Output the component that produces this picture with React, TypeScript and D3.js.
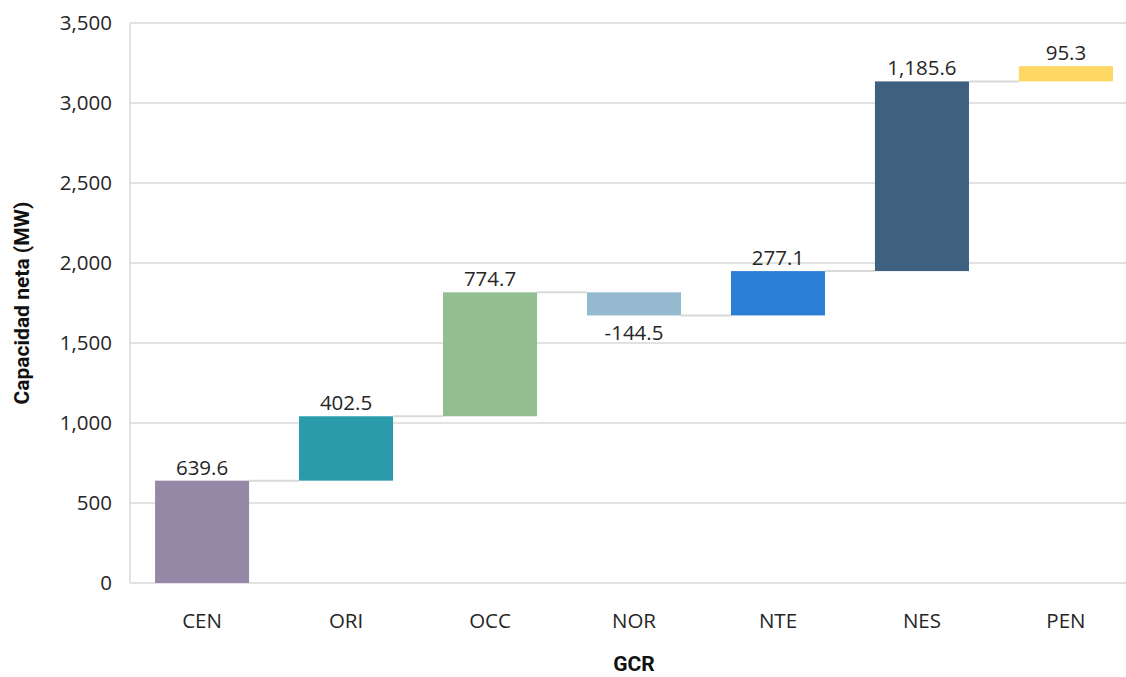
import React from 'react';
import * as d3 from 'd3';

// GCR regions and their net capacity contribution (MW)
const categories = ['CEN', 'ORI', 'OCC', 'NOR', 'NTE', 'NES', 'PEN'];
const values = [639.6, 402.5, 774.7, -144.5, 277.1, 1185.6, 95.3];
const barColors = ['#9389a6', '#2b9bab', '#93be91', '#95b9cf', '#2b7fd6', '#3e617f', '#fed764'];
const yTicks = [0, 500, 1000, 1500, 2000, 2500, 3000, 3500];

const width = 1126;
const height = 677;
const marginLeft = 130;
const marginTop = 23;
const plotBottom = 583;

const App = () => {
  // running totals for the waterfall
  let acc = 0;
  const steps = values.map((v, i) => {
    const start = acc;
    acc += v;
    return { key: categories[i], value: v, start, end: acc, color: barColors[i] };
  });

  const x = d3.scaleBand()
    .domain(categories)
    .range([marginLeft, marginLeft + 144 * categories.length])
    .paddingInner(0.347)
    .paddingOuter(0.174);

  const y = d3.scaleLinear()
    .domain([0, 3500])
    .range([plotBottom, marginTop]);

  // plain hyphen for negatives, like the original
  const fmt = (v: number) => d3.format(',.1f')(v).replace('\u2212', '-');
  const tickFont = "'Open Sans', 'Noto Sans', sans-serif";

  return (
    <svg width={width} height={height} style={{ display: 'block', position: 'absolute', left: 0, top: 0 }}>
      <rect width={width} height={height} fill="#fff" />

      {/* grid */}
      {yTicks.map(t => (
        <line key={t} x1={marginLeft} x2={width} y1={y(t)} y2={y(t)} stroke="#d9d9d9" strokeWidth={1.5} />
      ))}
      <line x1={marginLeft} x2={marginLeft} y1={marginTop} y2={plotBottom} stroke="#d9d9d9" strokeWidth={1.5} />

      {/* y tick labels */}
      {yTicks.map(t => (
        <text key={t} x={112} y={y(t)} dy="0.35em" textAnchor="end" fontFamily={tickFont} fontSize={20.5} fill="#262626">
          {d3.format(',')(t)}
        </text>
      ))}

      {/* connectors */}
      {steps.slice(0, -1).map((s, i) => (
        <line key={s.key}
          x1={x(s.key)! + x.bandwidth()} x2={x(categories[i + 1])!}
          y1={y(s.end)} y2={y(s.end)}
          stroke="#d9d9d9" strokeWidth={2} />
      ))}

      {/* bars */}
      {steps.map(s => (
        <rect key={s.key}
          x={x(s.key)}
          y={y(Math.max(s.start, s.end))}
          width={x.bandwidth()}
          height={Math.abs(y(s.start) - y(s.end))}
          fill={s.color} />
      ))}

      {/* value labels */}
      {steps.map(s => (
        <text key={s.key}
          x={x(s.key)! + x.bandwidth() / 2}
          y={s.value >= 0 ? y(s.end) - 6 : y(s.end) + 25}
          textAnchor="middle" fontFamily={tickFont} fontSize={20.5} fill="#262626">
          {fmt(s.value)}
        </text>
      ))}

      {/* x tick labels */}
      {categories.map(c => (
        <text key={c} x={x(c)! + x.bandwidth() / 2} y={628} textAnchor="middle" fontFamily={tickFont} fontSize={20.5} fill="#262626">
          {c}
        </text>
      ))}

      {/* axis titles */}
      <text x={634} y={671} textAnchor="middle" fontFamily="Roboto, sans-serif" fontWeight="bold" fontSize={21} fill="#111">
        GCR
      </text>
      <text transform={`translate(29,${(marginTop + plotBottom) / 2}) rotate(-90)`} textAnchor="middle"
        fontFamily="Roboto, sans-serif" fontWeight="bold" fontSize={21} fill="#111">
        Capacidad neta (MW)
      </text>
    </svg>
  );
};

export default App;
